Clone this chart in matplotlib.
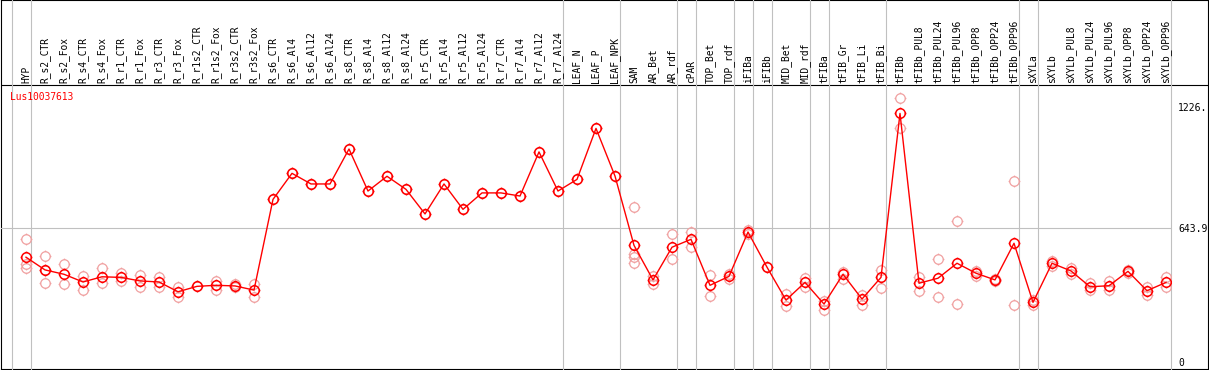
import numpy as np
import matplotlib
matplotlib.use('Agg')
import matplotlib.pyplot as plt
import matplotlib.transforms as mtransforms
from matplotlib.path import Path

# Données
categories = ['HYP', 'R_s2_CTR', 'R_s2_Fox', 'R_s4_CTR', 'R_s4_Fox', 'R_r1_CTR', 'R_r1_Fox',
              'R_r3_CTR', 'R_r3_Fox', 'R_r1s2_CTR', 'R_r1s2_Fox', 'R_r3s2_CTR', 'R_r3s2_Fox',
              'R_s6_CTR', 'R_s6_Al4', 'R_s6_Al12', 'R_s6_Al24', 'R_s8_CTR', 'R_s8_Al4',
              'R_s8_Al12', 'R_s8_Al24', 'R_r5_CTR', 'R_r5_Al4', 'R_r5_Al12', 'R_r5_Al24',
              'R_r7_CTR', 'R_r7_Al4', 'R_r7_Al12', 'R_r7_Al24', 'LEAF_N', 'LEAF_P', 'LEAF_NPK',
              'SAM', 'AR_Bet', 'AR_rdf', 'cPAR', 'TOP_Bet', 'TOP_rdf', 'iFIBa', 'iFIBb',
              'MID_Bet', 'MID_rdf', 'tFIBa', 'tFIB_Gr', 'tFIB_Li', 'tFIB_Bi', 'tFIBb',
              'tFIBb_PUL8', 'tFIBb_PUL24', 'tFIBb_PUL96', 'tFIBb_OPP8', 'tFIBb_OPP24',
              'tFIBb_OPP96', 'sXYLa', 'sXYLb', 'sXYLb_PUL8', 'sXYLb_PUL24', 'sXYLb_PUL96',
              'sXYLb_OPP8', 'sXYLb_OPP24', 'sXYLb_OPP96']

means = [505, 444, 423, 386, 411, 408, 391, 386, 339, 365, 370, 367, 347,
         783, 908, 857, 857, 1025, 823, 894, 831, 713, 857, 735, 814,
         814, 799, 1011, 823, 879, 1124, 895,
         562, 396, 553, 591, 370, 413, 626, 457, 299, 384,
         280, 423, 304, 408, 1196, 380, 404, 476, 428, 396, 572,
         288, 476, 439, 363, 368, 437, 344, 384]

replicates = [
    [594, 470, 455], [509, 444, 380], [472, 375], [413, 349], [452, 380], [431, 391],
    [420, 360], [408, 360], [363, 312], [365], [392, 347], [378, 360], [376, 312],
    [783], [908], [857], [857], [1025], [823], [894], [831], [713], [857], [735], [814],
    [814], [799], [1011], [823], [879], [1124], [895],
    [745, 520, 507, 479], [416, 376], [616, 495], [628, 553], [418, 320], [402, 425],
    [636, 617], [457], [328, 270], [404, 363], [296, 251], [432, 402], [323, 275],
    [443, 356], [1269, 1124], [408, 344], [495, 312], [678, 280], [440, 415],
    [399, 390], [870, 274], [275, 299], [488, 464], [452, 424], [382, 347],
    [392, 347], [443, 429], [363, 323], [411, 360]]

# indices après lesquels passe un séparateur vertical
group_ends = [-1, 0, 28, 31, 34, 35, 37, 38, 39, 41, 42, 45, 52, 53, 60]

ytick_values = [0, 643.9, 1226]
ytick_labels = ['0', '643.9', '1226.']

W, H = 1209, 370
fig = plt.figure(figsize=(W / 100, H / 100), dpi=100)
plt.rcParams['font.family'] = ['DejaVu Sans Mono']

# cadre général
frame = fig.add_axes([1 / W, 1 - 369 / H, 1206.5 / W, 369 / H])
frame.set_xlim(0, 1)
frame.set_ylim(0, 1)
frame.set_xticks([])
frame.set_yticks([])
for s in frame.spines.values():
    s.set_linewidth(0.8)
    s.set_color('black')
frame.axhline(1 - 85 / 369, color='black', lw=0.8)

# zone de tracé
ax = fig.add_axes([1 / W, 1 - 369 / H, 1170 / W, 284 / H])
ax.patch.set_alpha(0)
ax.set_xlim((1 - 26) / 19, (1171 - 26) / 19)
ax.set_ylim((362.3 - 369) / 0.2081, (362.3 - 85) / 0.2081)
for s in ax.spines.values():
    s.set_visible(False)
ax.set_xticks([])
ax.yaxis.tick_right()
ax.set_yticks(ytick_values)
ax.set_yticklabels(ytick_labels)
ax.tick_params(axis='y', length=0, pad=5, labelsize=7)

grid_color = '#c0c0c0'
ax.axhline(643.9, color=grid_color, lw=0.8, zorder=0)
for b in group_ends:
    ax.axvline(b + 0.24, ymin=0, ymax=369 / 284, color=grid_color, lw=0.8,
               clip_on=False, zorder=0)

# marqueur : cercle avec quatre petites dents
ang = np.linspace(0, 2 * np.pi, 41)
t = 1.25
verts = [(np.cos(a), np.sin(a)) for a in ang]
codes = [Path.MOVETO] + [Path.LINETO] * (len(ang) - 1)
for dx, dy in [(0, 1), (0, -1), (1, 0), (-1, 0)]:
    verts += [(dx, dy), (dx * t, dy * t)]
    codes += [Path.MOVETO, Path.LINETO]
gear = Path(verts, codes)

for i, r in enumerate(replicates):
    ax.plot([i] * len(r), r, linestyle='none', marker=gear, markersize=8.5,
            markerfacecolor='none', markeredgecolor='#f0a0a0', markeredgewidth=0.9,
            zorder=2)

x = list(range(len(categories)))
ax.plot(x, means, color='#ff0000', lw=1.0, marker=gear, markersize=8.5,
        markerfacecolor='none', markeredgecolor='#ff0000', markeredgewidth=1.1, zorder=3)

# étiquettes verticales
trans = mtransforms.blended_transform_factory(ax.transData, ax.transAxes)
for i, lab in enumerate(categories):
    ax.text(i, 1 + 2 / 284, lab, rotation=90, ha='center', va='bottom', fontsize=6.9,
            transform=trans, clip_on=False)

ax.text(9 / 1170, (369 - 97) / 284, 'Lus10037613', color='#ff0000', fontsize=6.9,
        ha='left', va='center', transform=ax.transAxes)

fig.savefig('out.png', dpi=100)
